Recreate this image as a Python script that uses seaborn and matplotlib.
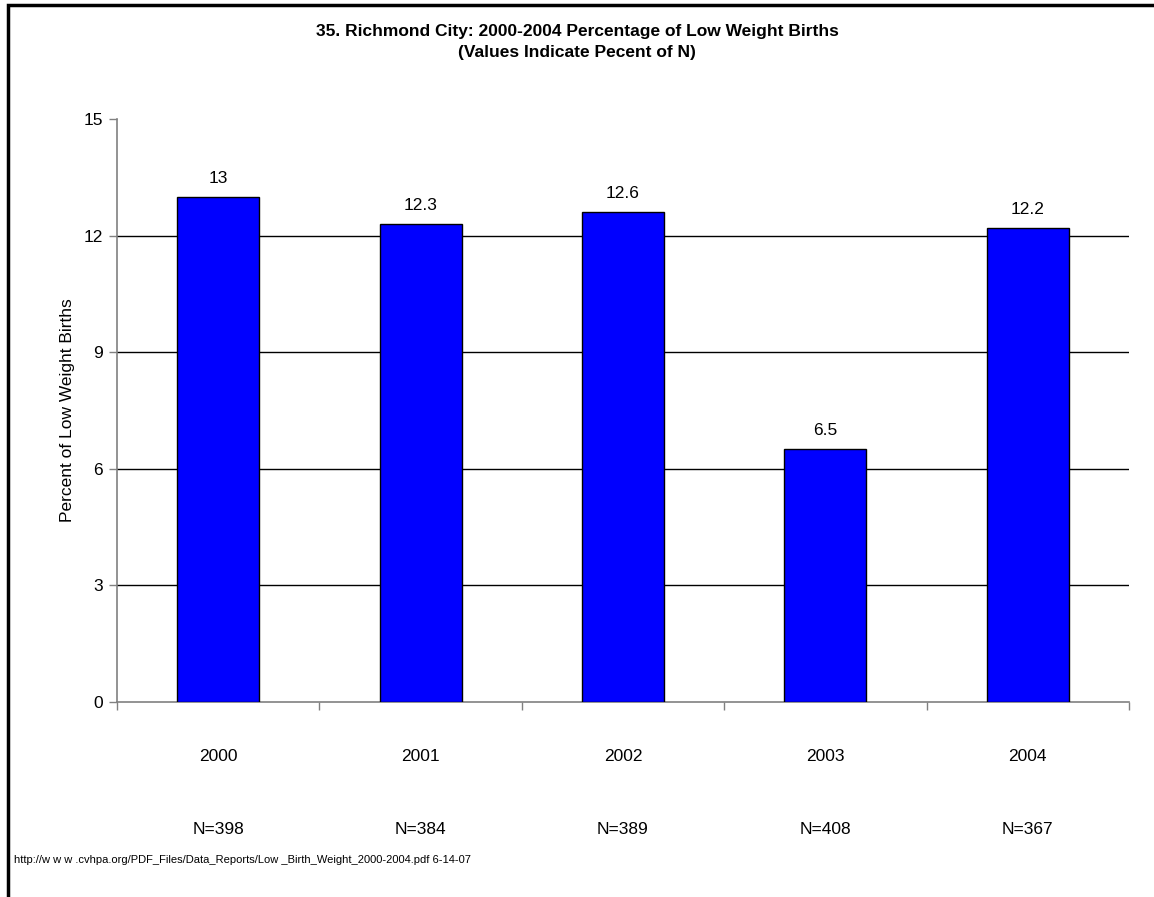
import numpy as np
import pandas as pd
import matplotlib
matplotlib.use('Agg')
import matplotlib.pyplot as plt
import seaborn as sns

# DATA
years = ['2000', '2001', '2002', '2003', '2004']
pct_low_weight = [13.0, 12.3, 12.6, 6.5, 12.2]
value_labels = ['13', '12.3', '12.6', '6.5', '12.2']
n_labels = ['N=398', 'N=384', 'N=389', 'N=408', 'N=367']

df = pd.DataFrame({'year': years, 'pct': pct_low_weight})

sns.set_style('white')
plt.rcParams['font.family'] = ['Liberation Sans', 'DejaVu Sans']
plt.rcParams['text.color'] = 'black'
plt.rcParams['axes.labelcolor'] = 'black'
plt.rcParams['xtick.color'] = 'black'
plt.rcParams['ytick.color'] = 'black'

fig = plt.figure(figsize=(11.54, 8.97), dpi=100)
ax = fig.add_axes([0.1014, 0.2174, 0.8769, 0.6499])

sns.barplot(data=df, x='year', y='pct', color='#0000FF', saturation=1,
            width=0.405, edgecolor='black', linewidth=1, ax=ax, zorder=3)

# gridlines
ax.set_ylim(0, 15)
ax.set_yticks([0, 3, 6, 9, 12, 15])
for v in [3, 6, 9, 12]:
    ax.axhline(v, color='black', linewidth=1, zorder=1)

ax.set_xlim(-0.5, 4.5)
ax.set_xticks(np.arange(-0.5, 5.0, 1.0), minor=True)
ax.tick_params(axis='x', which='both', bottom=True)
ax.tick_params(axis='y', which='both', left=True)
ax.tick_params(axis='x', which='major', length=0, pad=34, labelsize=12.5)
ax.tick_params(axis='x', which='minor', length=6, width=1, color='#808080', direction='out')
ax.tick_params(axis='y', length=6, width=1, color='#808080', direction='out', labelsize=12.5, pad=4)

for s in ['top', 'right']:
    ax.spines[s].set_visible(False)
for s in ['left', 'bottom']:
    ax.spines[s].set_color('#808080')
    ax.spines[s].set_linewidth(1.2)

ax.set_xlabel('')
ax.set_ylabel('Percent of Low Weight Births', fontsize=12.5, labelpad=6)

# value labels
for i, (v, lab) in enumerate(zip(pct_low_weight, value_labels)):
    ax.annotate(lab, (i, v), xytext=(0, 8), textcoords='offset points',
                ha='center', va='bottom', fontsize=12.5)

# N labels below years
for i, lab in enumerate(n_labels):
    ax.annotate(lab, (i, 0), xycoords=('data', 'axes fraction'),
                xytext=(0, -92), textcoords='offset points',
                ha='center', va='center', fontsize=12.5)

fig.text(0.5, 0.965, '35. Richmond City: 2000-2004 Percentage of Low Weight Births',
         ha='center', va='center', fontsize=12.5, fontweight='bold')
fig.text(0.5, 0.942, '(Values Indicate Pecent of N)',
         ha='center', va='center', fontsize=12.5, fontweight='bold')

fig.text(0.012, 0.041, 'http://w w w .cvhpa.org/PDF_Files/Data_Reports/Low _Birth_Weight_2000-2004.pdf 6-14-07',
         ha='left', va='center', fontsize=8)

# chart border (left and top visible)
border = plt.Rectangle((0.007, -0.1), 1.2, 1.094, transform=fig.transFigure,
                       fill=False, edgecolor='black', linewidth=2.5)
fig.add_artist(border)

fig.savefig('out.png', dpi=100)
